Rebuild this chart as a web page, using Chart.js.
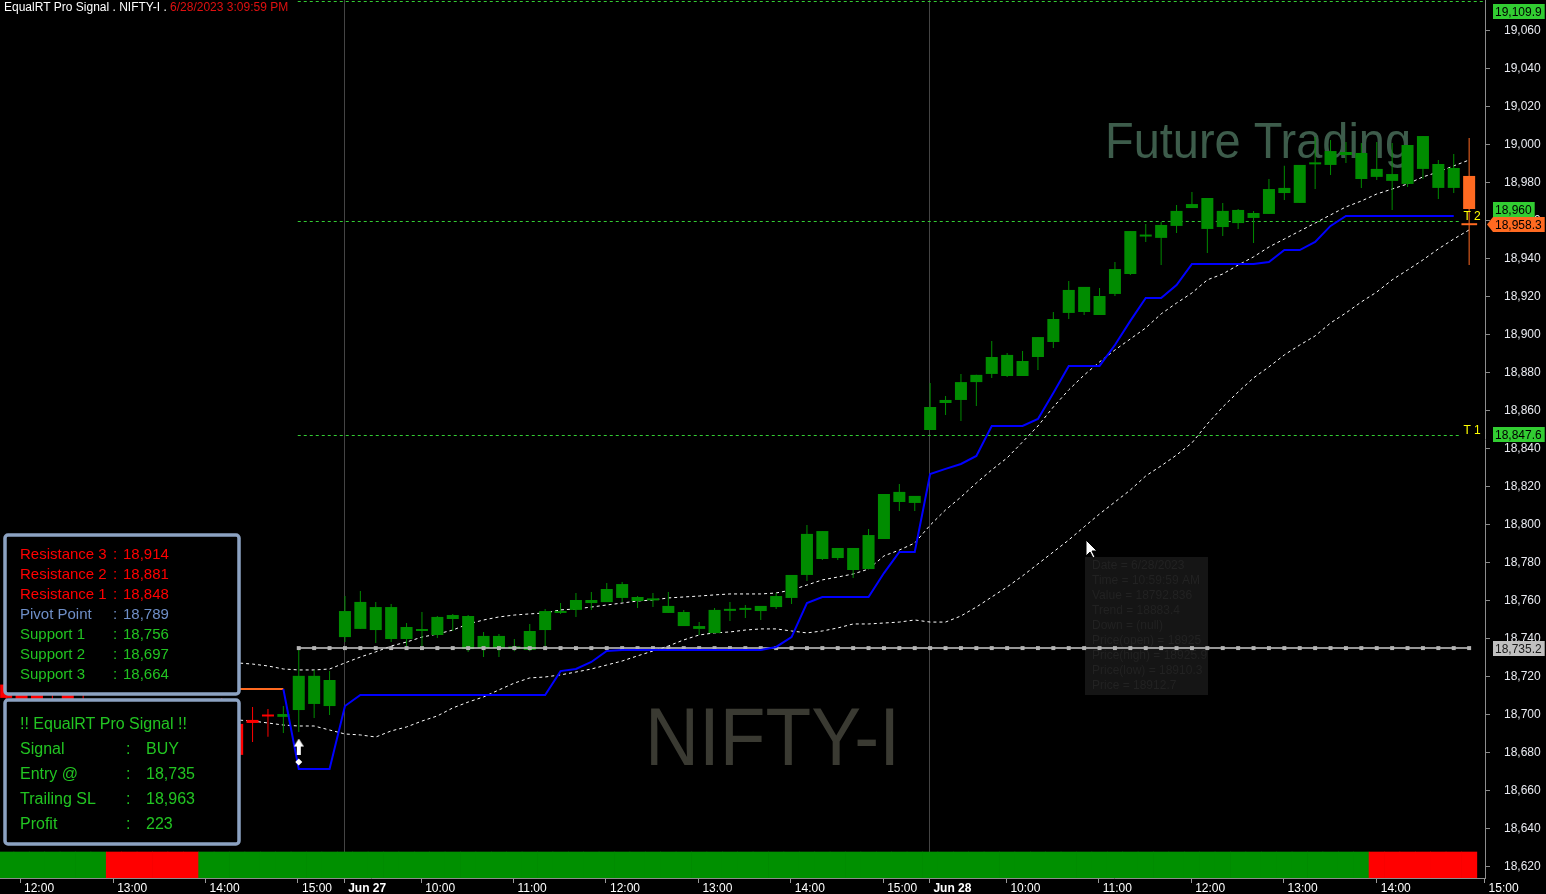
<!DOCTYPE html>
<html lang="en">
<head>
<meta charset="UTF-8" />
<title>EqualRT Pro Signal . NIFTY-I</title>
<script src="https://cdn.jsdelivr.net/npm/chart.js"></script>
<style>
  html, body { margin: 0; background: #000; overflow: hidden; }
  canvas { display: block; }
</style>
</head>
<body>
<canvas id="chart" width="1546" height="894"></canvas>
<script>
// 10 minute bars. slot 0 = Jun 26 11:50 ... slot 95 = Jun 28 15:05 (live bar)
const opens = [
  18716, 18713, 18712, 18707, 18714, 18708, 18698, 18701, 18692, 18695, 18691, 18698, 18694, 18699, 18703,
  18695.3, 18697.4, 18699.6, 18699.0, 18702.6, 18705.8, 18704.7,
  18741.0, 18745.3, 18744.7, 18740.0, 18740.0, 18744.2, 18742.1, 18750.5, 18734.7, 18735.2,
  18735.2, 18735.0, 18734.2, 18744.7, 18753.7, 18755.3, 18758.9, 18759.4, 18761.6, 18760.0,
  18760.3, 18753.7, 18746.8, 18745.3, 18743.1, 18754.8, 18755.3, 18754.7, 18756.8, 18761.6,
  18773.7, 18782.1, 18782.6, 18776.3, 18776.8, 18792.6, 18812.1, 18811.6,
  18850.0, 18864.2, 18865.8, 18875.2, 18879.5, 18878.4, 18878.4, 18888.4, 18896.3, 18911.6,
  18912.1, 18910.5, 18921.6, 18932.1, 18951.8, 18951.1, 18957.4, 18966.8, 18955.8, 18956.8,
  18958.9, 18961.6, 18963.7, 18974.7, 18969.5, 18989.8, 18989.5, 18994.7, 18982.1, 18983.2,
  18981.1, 18979.5, 18987.4, 18977.4, 18977.4, 18983.7
];
const highs = [
  18722, 18719, 18718, 18713, 18720, 18712, 18705, 18706, 18699, 18702, 18700, 18705, 18701, 18707, 18709,
  18699.4, 18704.2, 18703.2, 18704.7, 18735.8, 18723.7, 18723.1,
  18762.6, 18765.2, 18759.5, 18758.4, 18748.4, 18754.2, 18752.1, 18753.1, 18752.6, 18743.7,
  18742.6, 18740.0, 18747.9, 18755.8, 18758.9, 18764.2, 18764.7, 18769.5, 18770.0, 18762.6,
  18764.2, 18764.7, 18755.3, 18748.9, 18756.3, 18759.4, 18757.9, 18757.4, 18764.2, 18773.7,
  18800.0, 18796.8, 18787.9, 18787.9, 18797.9, 18816.3, 18821.6, 18815.3,
  18874.7, 18867.9, 18879.5, 18879.0, 18896.8, 18890.5, 18891.6, 18898.9, 18912.1, 18928.4,
  18925.3, 18924.7, 18938.4, 18954.7, 18958.4, 18959.5, 18968.4, 18975.3, 18972.1, 18969.5,
  18966.3, 18965.2, 18982.1, 18989.0, 18989.5, 19004.2, 19002.6, 19001.6, 19001.1, 19001.6,
  19001.1, 19000.0, 19004.7, 18992.1, 18995.3, 19003.7
];
const lows = [
  18706, 18700, 18702, 18697, 18701, 18694, 18690, 18688, 18684, 18689, 18686, 18692, 18688, 18693, 18690,
  18676.3, 18685.8, 18688.5, 18690.5, 18691.1, 18698.4, 18700.0,
  18738.4, 18745.3, 18737.9, 18738.4, 18734.7, 18734.7, 18740.5, 18744.2, 18733.1, 18730.5,
  18730.5, 18733.6, 18733.6, 18735.8, 18753.1, 18751.6, 18755.3, 18759.4, 18759.4, 18756.3,
  18756.8, 18753.7, 18746.8, 18742.1, 18743.1, 18749.5, 18751.1, 18750.0, 18755.8, 18758.4,
  18770.5, 18781.6, 18781.6, 18772.1, 18776.8, 18792.6, 18807.4, 18807.4,
  18850.0, 18857.9, 18854.7, 18862.6, 18877.4, 18877.9, 18878.4, 18881.6, 18893.2, 18908.4,
  18910.5, 18910.5, 18920.5, 18931.6, 18948.9, 18936.8, 18953.7, 18966.8, 18943.2, 18952.1,
  18955.8, 18948.4, 18963.7, 18971.0, 18969.5, 18976.8, 18984.2, 18990.5, 18977.4, 18981.6,
  18965.8, 18977.9, 18982.1, 18971.6, 18974.7, 18936.8
];
const closes = [
  18709, 18705, 18706, 18702, 18706, 18697, 18701, 18692, 18695, 18691, 18698, 18694, 18699, 18703, 18697,
  18679.0, 18695.8, 18699.2, 18700.5, 18720.6, 18720.6, 18718.4,
  18754.7, 18759.5, 18756.8, 18756.8, 18746.3, 18745.2, 18751.6, 18752.6, 18752.1, 18741.6,
  18741.6, 18735.5, 18744.2, 18754.7, 18754.7, 18760.5, 18760.5, 18766.3, 18768.9, 18762.1,
  18760.8, 18757.4, 18754.2, 18746.8, 18755.3, 18755.3, 18756.3, 18757.4, 18762.6, 18773.7,
  18795.3, 18796.8, 18787.9, 18787.9, 18794.7, 18816.3, 18817.4, 18815.3,
  18862.1, 18865.8, 18875.2, 18879.0, 18888.4, 18889.5, 18886.3, 18898.9, 18908.4, 18923.7,
  18925.3, 18920.5, 18934.7, 18954.7, 18952.3, 18957.9, 18965.3, 18968.9, 18972.1, 18965.3,
  18965.8, 18964.2, 18976.8, 18977.4, 18989.5, 18990.3, 18996.8, 18996.3, 18995.8, 18987.4,
  18984.7, 19000.0, 19004.7, 18990.0, 18987.9, 18966.3
];

// trailing stop: buy side (blue) and sell side (orange)
const trailUp = [
  null, null, null, null, null, null, null, null, null, null, null, null, null, null, null, null, null, null,
  18713.7, 18671.6, 18671.6, 18671.6, 18704.7,
  18710.5, 18710.5, 18710.5, 18710.5, 18710.5, 18710.5, 18710.5, 18710.5, 18710.5, 18710.5, 18710.5, 18710.5, 18710.5,
  18723.1, 18724.2, 18727.9, 18733.7,
  18734.2, 18734.2, 18734.2, 18734.2, 18734.2, 18734.2, 18734.2, 18734.2, 18734.2, 18734.2,
  18735.8, 18741.0, 18758.9, 18762.1, 18762.1, 18762.1, 18762.1,
  18774.7, 18785.8, 18785.8, 18826.8, 18829.5, 18832.1, 18836.3,
  18852.1, 18852.1, 18852.1, 18855.8, 18869.5, 18883.7, 18883.7, 18883.7,
  18894.7, 18907.4, 18919.5, 18919.5, 18926.3,
  18937.4, 18937.4, 18937.4, 18937.4, 18937.4,
  18938.4, 18944.7, 18944.7, 18949.0, 18957.4,
  18962.6, 18962.6, 18962.6, 18962.6, 18962.6, 18962.6, 18962.6, 18962.6,
  null
];
const trailDown = [
  18713.7, 18713.7, 18713.7, 18713.7, 18713.7, 18713.7, 18713.7, 18713.7, 18713.7, 18713.7,
  18713.7, 18713.7, 18713.7, 18713.7, 18713.7, 18713.7, 18713.7, 18713.7, 18713.7
];

// dotted bands
const upperBand = [
  18729.0, 18729.0, 18728.8, 18728.6, 18728.4, 18728.2, 18728.0, 18727.9, 18727.8, 18727.7,
  18727.6, 18727.5, 18727.5, 18727.4, 18727.4, 18727.4, 18726.8, 18725.8, 18724.2, 18723.7,
  18723.7, 18724.2, 18727.4, 18730.5, 18733.2, 18736.3, 18738.4, 18741.0, 18742.6, 18744.7,
  18747.9, 18750.0, 18751.6, 18752.6, 18753.2, 18753.7, 18755.3, 18755.8, 18756.8, 18757.9,
  18758.9, 18760.0, 18760.5, 18761.6, 18762.1, 18762.6, 18763.2, 18763.7, 18763.7, 18763.7,
  18764.2, 18765.8, 18768.4, 18771.1, 18772.6, 18774.2, 18776.8, 18783.7, 18786.8, 18790.5,
  18799.9, 18807.9, 18814.7, 18822.1, 18829.0, 18835.3, 18843.7, 18852.1, 18862.1, 18871.1,
  18878.9, 18885.8, 18892.1, 18897.9, 18903.7, 18911.1, 18916.8, 18922.1, 18929.0, 18932.1,
  18936.8, 18941.1, 18946.3, 18950.5, 18954.7, 18958.9, 18963.2, 18967.4, 18970.5, 18974.2,
  18976.8, 18979.5, 18983.2, 18985.8, 18989.0, 18992.1
];
const lowerBand = [
  18698.5, 18698.6, 18698.8, 18699.0, 18699.1, 18699.2, 18699.0, 18698.8, 18698.6, 18698.4,
  18698.2, 18698.0, 18697.9, 18697.8, 18697.6, 18697.4, 18696.8, 18695.8, 18694.7, 18694.2,
  18694.2, 18692.1, 18690.0, 18689.5, 18688.4, 18691.6, 18693.7, 18696.8, 18699.5, 18703.7,
  18706.8, 18709.5, 18713.2, 18716.8, 18719.5, 18720.0, 18721.1, 18722.6, 18724.2, 18726.3,
  18728.4, 18731.1, 18733.7, 18736.3, 18739.5, 18742.1, 18743.2, 18743.7, 18744.7, 18745.3,
  18745.3, 18744.2, 18743.2, 18744.2, 18745.8, 18747.9, 18747.9, 18748.4, 18748.9, 18750.0,
  18748.9, 18748.9, 18752.1, 18756.8, 18762.1, 18767.4, 18773.2, 18779.5, 18785.8, 18792.1,
  18799.0, 18805.8, 18812.1, 18818.4, 18825.8, 18831.1, 18836.8, 18843.2, 18853.2, 18862.1,
  18870.0, 18877.4, 18883.2, 18889.5, 18894.7, 18899.5, 18906.3, 18911.6, 18917.4, 18922.6,
  18929.0, 18934.2, 18939.5, 18945.3, 18950.5, 18955.3
];

// trend ribbon, G = up, R = down (12 bars per row)
const ribbon = [
  'G','G','G','G','G','G','G','R','R','R','R','R',
  'R','G','G','G','G','G','G','G','G','G','G','G',
  'G','G','G','G','G','G','G','G','G','G','G','G',
  'G','G','G','G','G','G','G','G','G','G','G','G',
  'G','G','G','G','G','G','G','G','G','G','G','G',
  'G','G','G','G','G','G','G','G','G','G','G','G',
  'G','G','G','G','G','G','G','G','G','G','G','G',
  'G','G','G','G','G','R','R','R','R','R','R','R'
];

const signalSlot = 19;
const entryPrice = 18735.2;
const arrowPrice = 18683.4;
const diamondPrice = 18675.3;
const targets = [18847.6, 18960, 19109.9];
const targetNames = ['T 1', 'T 2', 'T 3'];
const targetEndSlot = 94.5;
const lastPrice = 18958.3;

const yMin = 18614.2, yMax = 19076.3;
const yTicks = [18620, 18640, 18660, 18680, 18700, 18720, 18740, 18760, 18780, 18800, 18820,
  18840, 18860, 18880, 18900, 18920, 18940, 18960, 18980, 19000, 19020, 19040, 19060];
const xMin = -0.4, xMax = 96.03;
const xTickSlots = [0.9, 6.95, 12.95, 18.95, 21.95, 26.95, 32.95, 38.95, 44.95, 50.95, 56.95,
  59.95, 64.95, 70.95, 76.95, 82.95, 89, 96];
const xTickLabels = ['12:00', '13:00', '14:00', '15:00', 'Jun 27', '10:00', '11:00', '12:00', '13:00',
  '14:00', '15:00', 'Jun 28', '10:00', '11:00', '12:00', '13:00', '14:00', '15:00'];

const pivotNames = ['Resistance 3', 'Resistance 2', 'Resistance 1', 'Pivot Point', 'Support 1', 'Support 2', 'Support 3'];
const pivotValues = [18914, 18881, 18848, 18789, 18756, 18697, 18664];
const signalRows = [['Signal', 'BUY'], ['Entry @', '18,735'], ['Trailing SL', '18,963'], ['Profit', '223']];
const hoverLines = ['Date = 6/28/2023', 'Time = 10:59:59 AM', 'Value = 18792.836', 'Trend = 18883.4',
  'Down = (null)', 'Price(open) = 18925', 'Price(high) = 18925.9', 'Price(low) = 18910.3', 'Price = 18912.7'];

const UP = '#008c00', DOWN = '#ff0000', LAST = '#ff6a21', TGT = '#33cc33';
const FONT = '"Liberation Sans", Arial, sans-serif';

const barColor = opens.map((o, i) => i === opens.length - 1 ? LAST : (closes[i] >= o ? UP : DOWN));
const toXY = arr => arr.map((v, i) => ({ x: i, y: v })).filter(p => p.y !== null);
const fmt = v => v.toLocaleString('en-US', { maximumFractionDigits: 1 });

// white up arrow used as the buy signal marker
const arrowImg = document.createElement('canvas');
arrowImg.width = 10; arrowImg.height = 16;
{
  const g = arrowImg.getContext('2d');
  g.fillStyle = '#fff';
  g.beginPath(); g.moveTo(5, 0); g.lineTo(10, 8); g.lineTo(0, 8); g.closePath(); g.fill();
  g.fillRect(3, 8, 4, 8);
}

// axes must not push the plot area in
function noPad(s) { s.paddingTop = 0; s.paddingBottom = 0; s.paddingLeft = 0; s.paddingRight = 0; }

function stretchText(ctx, text, x, baseline, width, font, color) {
  ctx.save();
  ctx.font = font;
  ctx.fillStyle = color;
  ctx.textBaseline = 'alphabetic';
  const w = ctx.measureText(text).width;
  ctx.translate(x, baseline);
  ctx.scale(width / w, 1);
  ctx.fillText(text, 0, 0);
  ctx.restore();
}

function valueBox(ctx, text, cy, bg, fg, arrow) {
  ctx.font = '12px ' + FONT;
  const w = ctx.measureText(text).width + 5;
  const left = 1493, h = 15, top = Math.round(cy - h / 2);
  ctx.fillStyle = bg;
  ctx.fillRect(left, top, w, h);
  if (arrow) {
    ctx.beginPath();
    ctx.moveTo(left, top); ctx.lineTo(left - 6, top + h / 2); ctx.lineTo(left, top + h); ctx.closePath();
    ctx.fill();
  }
  ctx.fillStyle = fg;
  ctx.textBaseline = 'middle';
  ctx.textAlign = 'left';
  ctx.fillText(text, left + 2, top + h / 2 + 1);
}

function panel(ctx, x, y, w, h) {
  ctx.fillStyle = '#000';
  ctx.fillRect(x, y, w, h);
  ctx.strokeStyle = '#8ca2c2';
  ctx.lineWidth = 3.5;
  ctx.beginPath();
  ctx.roundRect(x, y, w, h, 3);
  ctx.stroke();
}

const overlay = {
  id: 'overlay',
  beforeDatasetsDraw(chart) {
    const { ctx, chartArea: a, scales: { x, y } } = chart;
    ctx.save();
    stretchText(ctx, 'Future Trading', 1105, 158, 306, '50px ' + FONT, '#3d5c4b');
    stretchText(ctx, 'NIFTY-I', 645, 765, 255, '82px ' + FONT, '#3a3a32');

    // faded hover tooltip left by the cursor
    ctx.fillStyle = '#151515';
    ctx.fillRect(1085, 557, 123, 138);
    ctx.font = '12px ' + FONT;
    ctx.fillStyle = '#222222';
    ctx.textBaseline = 'middle';
    hoverLines.forEach((t, i) => ctx.fillText(t, 1092, 566 + i * 15));

    // target lines
    const x0 = x.getPixelForValue(signalSlot) - 1;
    ctx.strokeStyle = TGT;
    ctx.lineWidth = 1;
    ctx.setLineDash([3, 3]);
    targets.forEach(v => {
      const raw = y.getPixelForValue(v);
      const py = Math.round(Math.max(raw, a.top + 1)) + 0.5;
      const x1 = raw < a.top ? a.right : x.getPixelForValue(targetEndSlot);
      ctx.beginPath(); ctx.moveTo(x0, py); ctx.lineTo(x1, py); ctx.stroke();
    });
    ctx.restore();
  },
  afterDraw(chart) {
    const { ctx, chartArea: a, scales: { x, y } } = chart;
    ctx.save();

    // title
    ctx.font = '12px ' + FONT;
    ctx.textBaseline = 'middle';
    ctx.fillStyle = '#ffffff';
    ctx.fillText('EqualRT Pro Signal . NIFTY-I . ', 4, 8);
    const tw = ctx.measureText('EqualRT Pro Signal . NIFTY-I . ').width;
    ctx.fillStyle = '#e01010';
    ctx.fillText('6/28/2023 3:09:59 PM', 4 + tw, 8);

    // target labels
    ctx.fillStyle = '#ffff00';
    ctx.textBaseline = 'bottom';
    targets.forEach((v, i) => {
      const py = y.getPixelForValue(v);
      if (py < a.top) return;
      ctx.fillText(targetNames[i], x.getPixelForValue(targetEndSlot) + 2, py + 2);
    });

    // last price tick
    const lastY = y.getPixelForValue(lastPrice);
    ctx.strokeStyle = LAST;
    ctx.lineWidth = 2;
    ctx.beginPath();
    ctx.moveTo(x.getPixelForValue(targetEndSlot), lastY);
    ctx.lineTo(x.getPixelForValue(opens.length - 1) + 8, lastY);
    ctx.stroke();

    // price boxes on the axis
    targets.forEach(v => {
      let cy = Math.max(y.getPixelForValue(v), a.top + 11);
      if (Math.abs(cy - lastY) < 15) cy = lastY - 15;
      valueBox(ctx, fmt(v), cy, '#32cd32', '#000');
    });
    valueBox(ctx, fmt(entryPrice), y.getPixelForValue(entryPrice), '#c0c0c0', '#1a1a1a');
    valueBox(ctx, fmt(lastPrice), lastY, LAST, '#000', true);

    // pivot panel
    panel(ctx, 5, 535, 234, 159);
    ctx.font = '15px ' + FONT;
    ctx.textBaseline = 'middle';
    pivotNames.forEach((n, i) => {
      ctx.fillStyle = i < 3 ? '#ff0000' : (i === 3 ? '#6f8fc8' : '#22c422');
      const ry = 555 + i * 20;
      ctx.fillText(n, 20, ry);
      const cx = Math.max(113, 20 + ctx.measureText(n).width + 5);
      ctx.fillText(':', cx, ry);
      ctx.fillText(fmt(pivotValues[i]), cx + 10, ry);
    });

    // signal panel
    panel(ctx, 5, 700, 234, 144);
    ctx.font = '16px ' + FONT;
    ctx.fillStyle = '#22c422';
    ctx.fillText('!! EqualRT Pro Signal !!', 20, 725);
    signalRows.forEach((r, i) => {
      const ry = 750 + i * 25;
      ctx.fillText(r[0], 20, ry);
      ctx.fillText(':', 126, ry);
      ctx.fillText(r[1], 146, ry);
    });

    // mouse pointer
    ctx.translate(1086, 540);
    ctx.beginPath();
    ctx.moveTo(0, 0); ctx.lineTo(0, 16); ctx.lineTo(4, 12); ctx.lineTo(7, 18);
    ctx.lineTo(9, 17); ctx.lineTo(6, 11); ctx.lineTo(11, 11); ctx.closePath();
    ctx.fillStyle = '#fff'; ctx.fill();
    ctx.strokeStyle = '#000'; ctx.lineWidth = 1; ctx.stroke();
    ctx.restore();
  }
};

const ctx = document.getElementById('chart').getContext('2d');
const chart = new Chart(ctx, {
  type: 'bar',
  data: {
    datasets: [
      {
        type: 'bar', label: 'Trend', yAxisID: 'yr', order: 0,
        data: ribbon.map((r, i) => ({ x: i, y: [0, 1] })),
        backgroundColor: ribbon.map(r => r === 'G' ? '#009000' : '#ff0000'),
        barPercentage: 1, categoryPercentage: 1, grouped: false
      },
      {
        type: 'line', label: 'Buy', order: 1, showLine: false,
        data: [{ x: signalSlot, y: arrowPrice }],
        pointStyle: arrowImg, pointRadius: 8
      },
      {
        type: 'line', label: 'Buy point', order: 1, showLine: false,
        data: [{ x: signalSlot, y: diamondPrice }],
        pointStyle: 'rectRot', pointRadius: 3.5, backgroundColor: '#fff', borderColor: '#fff', borderWidth: 0
      },
      {
        type: 'line', label: 'Trailing stop', order: 2,
        data: toXY(trailUp), borderColor: '#0000ff', borderWidth: 2, pointRadius: 0
      },
      {
        type: 'line', label: 'Trailing stop (sell)', order: 2,
        data: toXY(trailDown), borderColor: LAST, borderWidth: 2, pointRadius: 0
      },
      {
        type: 'line', label: 'Entry', order: 3,
        data: opens.slice(signalSlot).map((_, k) => ({ x: signalSlot + k, y: entryPrice })),
        borderColor: '#c8c8c8', borderWidth: 1.5,
        pointStyle: 'rect', pointRadius: 2.8, backgroundColor: '#b4b4b4', pointBorderWidth: 0
      },
      {
        type: 'bar', label: 'Body', order: 4,
        data: opens.map((o, i) => ({ x: i, y: [o, closes[i]] })),
        backgroundColor: barColor, barPercentage: 0.78, categoryPercentage: 1,
        grouped: false, minBarLength: 2
      },
      {
        type: 'bar', label: 'Wick', order: 5,
        data: lows.map((l, i) => ({ x: i, y: [l, highs[i]] })),
        backgroundColor: barColor, maxBarThickness: 1, grouped: false
      },
      {
        type: 'line', label: 'Upper band', order: 6,
        data: toXY(upperBand), borderColor: '#ffffff', borderWidth: 1, borderDash: [3, 3], pointRadius: 0
      },
      {
        type: 'line', label: 'Lower band', order: 6,
        data: toXY(lowerBand), borderColor: '#ffffff', borderWidth: 1, borderDash: [3, 3], pointRadius: 0
      }
    ]
  },
  options: {
    responsive: false,
    animation: false,
    events: [],
    layout: { padding: 0, autoPadding: false },
    plugins: { legend: { display: false }, tooltip: { enabled: false } },
    scales: {
      x: {
        type: 'linear', min: xMin, max: xMax, offset: false,
        afterBuildTicks: s => { s.ticks = xTickSlots.map(v => ({ value: v })); },
        afterFit: s => { s.height = 16; noPad(s); },
        grid: {
          offset: false, tickLength: 5, tickColor: '#9a9a9a',
          color: c => (xTickLabels[c.index] || '').startsWith('Jun') ? '#444444' : 'rgba(0,0,0,0)'
        },
        border: { color: '#8c8c8c', width: 1 },
        ticks: {
          autoSkip: false, maxRotation: 0, minRotation: 0, align: 'start', labelOffset: 4, padding: -2,
          color: '#ffffff',
          font: c => ({ family: FONT, size: 12, weight: (xTickLabels[c.index] || '').startsWith('Jun') ? 'bold' : 'normal' }),
          callback: (v, i) => xTickLabels[i]
        }
      },
      y: {
        type: 'linear', position: 'right', min: yMin, max: yMax,
        afterBuildTicks: s => { s.ticks = yTicks.map(v => ({ value: v })); },
        afterFit: s => { s.width = 61; noPad(s); },
        grid: { drawOnChartArea: false, tickLength: 5, tickColor: '#8c8c8c', color: '#8c8c8c' },
        border: { color: '#8c8c8c', width: 1 },
        ticks: {
          color: '#e8eaf0', font: { family: FONT, size: 12 }, padding: 14,
          callback: v => v.toLocaleString('en-US')
        }
      },
      yr: { type: 'linear', display: false, min: 0, max: 878 / 26 }
    }
  },
  plugins: [overlay]
});
</script>
</body>
</html>
